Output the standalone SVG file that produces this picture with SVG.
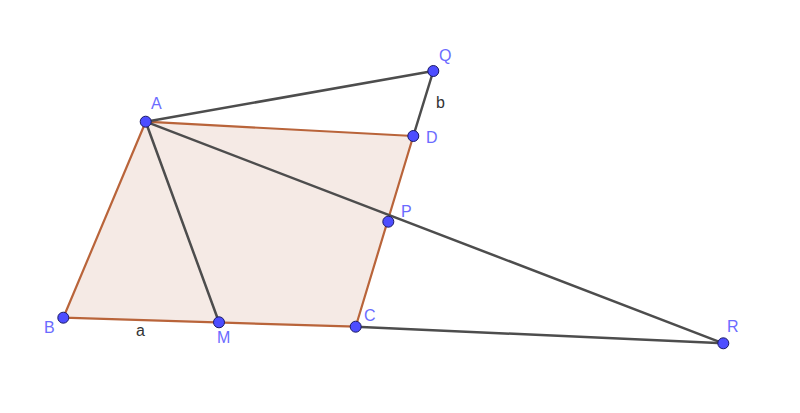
<svg xmlns="http://www.w3.org/2000/svg" width="800" height="413" viewBox="0 0 800 413">
<style>
.seg{stroke:#4d4d4d;stroke-width:2.5;fill:none;stroke-linecap:round}
.pt{fill:#4d4dff;stroke:#1a1a66;stroke-width:1}
.lbl{font-family:"Liberation Sans",Arial,sans-serif;font-size:16px;fill:#6b6bff}
.slbl{font-family:"Liberation Sans",Arial,sans-serif;font-size:16px;fill:#333333}
</style>
<rect width="800" height="413" fill="#ffffff"/>
<g id="poly">
<polygon points="145.7,121.7 63.3,317.7 355.7,326.7 413.3,136" fill="#993300" fill-opacity="0.1" stroke="#b9643a" stroke-width="2.2" stroke-linejoin="round"/>
</g>
<g id="connectors">
<line class="seg" x1="145.7" y1="121.7" x2="433.3" y2="71"/>
<line class="seg" x1="433.3" y1="71" x2="413.3" y2="136"/>
<line class="seg" x1="145.7" y1="121.7" x2="219" y2="322.3"/>
<line class="seg" x1="145.7" y1="121.7" x2="723.3" y2="343.3"/>
<line class="seg" x1="355.7" y1="326.7" x2="723.3" y2="343.3"/>
</g>
<text class="slbl" x="136" y="336">a</text>
<text class="slbl" x="436" y="108">b</text>
<g id="A"><circle class="pt" cx="145.7" cy="121.7" r="5.5"/><text class="lbl" x="151" y="109">A</text></g>
<g id="Q"><circle class="pt" cx="433.3" cy="71" r="5.5"/><text class="lbl" x="439" y="61">Q</text></g>
<g id="D"><circle class="pt" cx="413.3" cy="136" r="5.5"/><text class="lbl" x="426" y="143">D</text></g>
<g id="P"><circle class="pt" cx="388.3" cy="221.7" r="5.5"/><text class="lbl" x="401" y="217">P</text></g>
<g id="B"><circle class="pt" cx="63.3" cy="317.7" r="5.5"/><text class="lbl" x="44" y="333">B</text></g>
<g id="M"><circle class="pt" cx="219" cy="322.3" r="5.5"/><text class="lbl" x="217" y="343">M</text></g>
<g id="C"><circle class="pt" cx="355.7" cy="326.7" r="5.5"/><text class="lbl" x="364" y="321">C</text></g>
<g id="R"><circle class="pt" cx="723.3" cy="343.3" r="5.5"/><text class="lbl" x="727" y="332">R</text></g>
</svg>
